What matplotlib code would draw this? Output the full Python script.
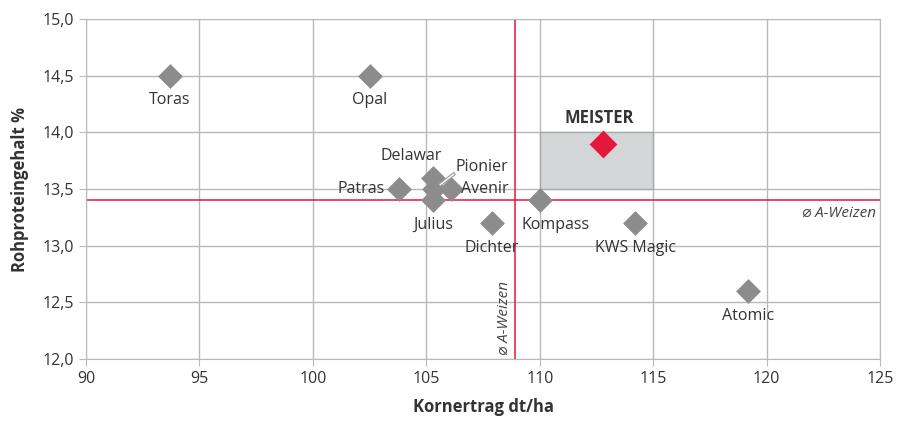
import matplotlib.pyplot as plt
import matplotlib.patheffects as pe

plt.rcParams['font.family'] = ['Open Sans', 'DejaVu Sans']

# Sorten: Kornertrag (dt/ha) und Rohproteingehalt (%)
names = ['Toras', 'Opal', 'Patras', 'Delawar', 'Pionier', 'Avenir', 'Julius',
         'Dichter', 'Kompass', 'KWS Magic', 'Atomic']
yields = [93.7, 102.5, 103.8, 105.3, 105.35, 106.1, 105.3, 107.9, 110.0, 114.2, 119.2]
protein = [14.5, 14.5, 13.5, 13.6, 13.5, 13.5, 13.4, 13.2, 13.4, 13.2, 12.6]

meister_yield = 112.8
meister_protein = 13.9

avg_yield = 108.9
avg_protein = 13.4
target_x = [110, 115]
target_y = [13.5, 14.0]

# label offsets (points) and alignment
offsets = {
    'Toras': (0, -12, 'center', 'top'),
    'Opal': (0, -12, 'center', 'top'),
    'Patras': (-10, 0, 'right', 'center'),
    'Delawar': (-16, 10, 'center', 'bottom'),
    'Pionier': (15, 10, 'left', 'bottom'),
    'Avenir': (7, 0, 'left', 'center'),
    'Julius': (0, -12, 'center', 'top'),
    'Dichter': (0, -12, 'center', 'top'),
    'Kompass': (-13, -12, 'left', 'top'),
    'KWS Magic': (0, -12, 'center', 'top'),
    'Atomic': (0, -12, 'center', 'top'),
}

gray = '#8c8c8c'
red = '#e5173a'
grid = '#b9b9b9'

fig = plt.figure(figsize=(9.07, 4.21), dpi=100)
ax = fig.add_axes([0.0948, 0.147, 0.8755, 0.808])

ax.set_xlim(90, 125)
ax.set_ylim(12.0, 15.0)
ax.set_xticks(range(90, 126, 5))
ax.set_yticks([12.0, 12.5, 13.0, 13.5, 14.0, 14.5, 15.0])
ax.set_yticklabels([f'{v:.1f}'.replace('.', ',') for v in ax.get_yticks()])
ax.grid(True, color=grid, linewidth=1)
ax.set_axisbelow(True)
for s in ax.spines.values():
    s.set_color(grid)
ax.tick_params(colors=grid, labelcolor='#333333', labelsize=11.5, length=5)

ax.fill_between(target_x, target_y[0], target_y[1], color='#d4d5d7',
                edgecolor='#a8a8a8', linewidth=1, zorder=1)

ax.axvline(avg_yield, color=red, linewidth=1.1, zorder=2)
ax.axhline(avg_protein, color=red, linewidth=1.1, zorder=2)
ax.text(124.8, avg_protein - 0.05, '⌀ A-Weizen', ha='right', va='top',
        style='italic', fontsize=11, color='#444444')
ax.text(avg_yield - 0.12, 12.04, '⌀ A-Weizen', ha='right', va='bottom',
        rotation=90, style='italic', fontsize=11, color='#444444')

ax.scatter(yields, protein, marker='D', s=160, color=gray, linewidths=0, zorder=3)
ax.scatter([meister_yield], [meister_protein], marker='D', s=200, color=red,
           linewidths=0, zorder=4)

for n, x, y in zip(names, yields, protein):
    dx, dy, ha, va = offsets[n]
    ax.annotate(n, (x, y), xytext=(dx, dy), textcoords='offset points',
                ha=ha, va=va, fontsize=11.5, color='#333333')
# leader line for Pionier
ax.plot([105.62, 106.2], [13.54, 13.63], color='white', linewidth=1, zorder=5,
        path_effects=[pe.Stroke(linewidth=2.6, foreground='#9a9a9a'), pe.Normal()])

ax.annotate('MEISTER', (meister_yield, meister_protein), xytext=(-3, 12),
            textcoords='offset points', ha='center', va='bottom',
            fontsize=12, fontweight='bold', color='#333333')

ax.set_xlabel('Kornertrag dt/ha', fontsize=12, fontweight='bold', color='#333333',
              labelpad=8)
ax.set_ylabel('Rohproteingehalt %', fontsize=12, fontweight='bold', color='#333333',
              labelpad=10)

fig.savefig('out.png', dpi=100)
